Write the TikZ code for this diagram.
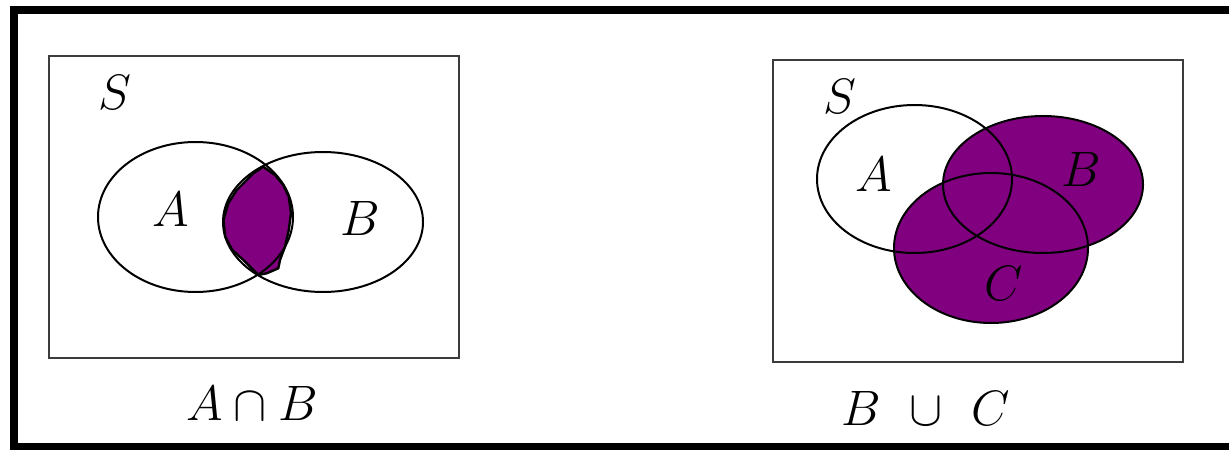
\documentclass[tikz,border=0pt]{standalone}
\definecolor{venn}{RGB}{128,0,128}
\definecolor{boxgray}{RGB}{60,60,60}
\tikzset{
  frame/.style={line width=4pt,draw=black},
  univ/.style={line width=1.1pt,draw=boxgray},
  setline/.style={line width=1pt,draw=black},
  lbl/.style={inner sep=0pt,font=\fontsize{28}{32}\selectfont},
  caption/.style={inner sep=0pt,anchor=base,font=\fontsize{29}{32}\selectfont}
}
\begin{document}
\begin{tikzpicture}[x=0.5pt,y=-0.5pt]
\useasboundingbox (0,0) rectangle (1229,449);
\clip (0,0) rectangle (1229,449);
\fill[white] (0,0) rectangle (1229,449);
% outer frame
\draw[frame] (14,10) -- (1245,10) -- (1245,447) -- (14,447) -- cycle;
% ---------- left panel ----------
\draw[univ] (49,56) rectangle (459,358);
\fill[venn] (263.3,166.7) -- (253.3,173.3) -- (246.7,180) -- (236.7,190) -- (228.3,203.3)
  -- (223.5,220) -- (225.2,236.7) -- (232.3,250) -- (243.3,260) -- (251.7,268.3)
  -- (258.3,275) -- (266.7,273.3) -- (278.3,268.3) -- (280,260) -- (285,246.7)
  -- (288.8,230) -- (291,213.3) -- (288.8,196.7) -- (283.3,185) -- (275,175) -- cycle;
\draw[setline,line width=1.2pt,line join=round] (263.3,166.7) -- (253.3,173.3) -- (246.7,180) -- (236.7,190) -- (228.3,203.3)
  -- (223.5,220) -- (225.2,236.7) -- (232.3,250) -- (243.3,260) -- (251.7,268.3)
  -- (258.3,275) -- (266.7,273.3) -- (278.3,268.3) -- (280,260) -- (285,246.7)
  -- (288.8,230) -- (291,213.3) -- (288.8,196.7) -- (283.3,185) -- (275,175) -- cycle;
\draw[setline] (195.5,217) ellipse [x radius=97.5, y radius=75];
\draw[setline] (323,222) ellipse [x radius=100, y radius=70];
\node[lbl] (S1) at (115,92) {$S$};
\node[lbl] (A1) at (171,209) {$A$};
\node[lbl] (B1) at (360,218) {$B$};
\node[caption] (L1) at (252,420) {$A\cap B$};
% ---------- right panel ----------
\draw[univ] (773,60) rectangle (1183,362);
\fill[venn] (1043,184.5) ellipse [x radius=100, y radius=68.5];
\fill[venn] (991,248) ellipse [x radius=97, y radius=75];
\draw[setline] (914.5,179) ellipse [x radius=97.5, y radius=74];
\draw[setline] (1043,184.5) ellipse [x radius=100, y radius=68.5];
\draw[setline] (991,248) ellipse [x radius=97, y radius=75];
\node[lbl] (S2) at (840,96) {$S$};
\node[lbl] (A2) at (874,174) {$A$};
\node[lbl] (B2) at (1081,169) {$B$};
\node[lbl] (C2) at (1004,283) {$C$};
\node[caption] (L2) at (926,425) {$B\ \cup\ C$};
\end{tikzpicture}
\end{document}
